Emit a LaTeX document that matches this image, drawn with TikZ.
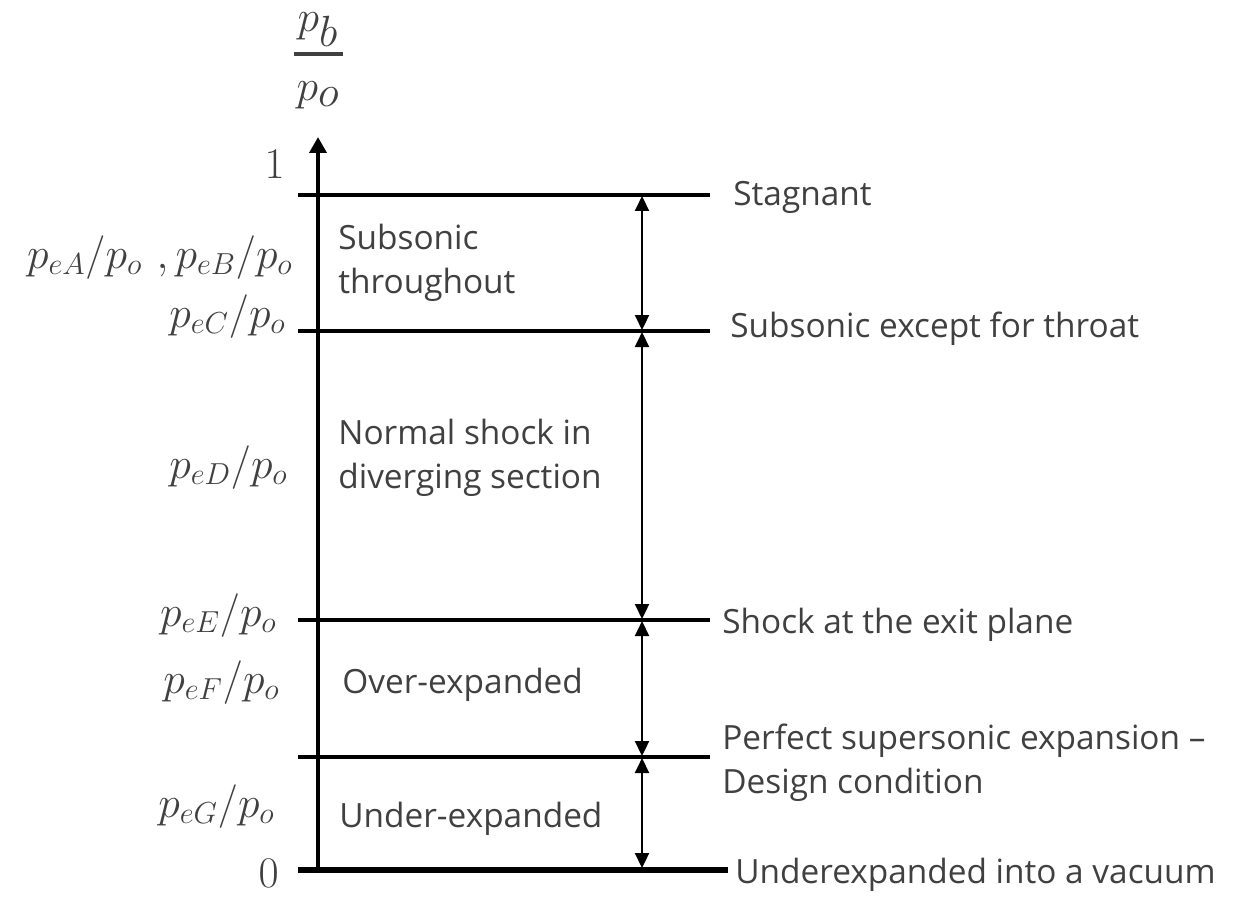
\documentclass[tikz,border=0pt]{standalone}
\usepackage{amsmath}
\usepackage{fontspec}
\newfontfamily\labelfont{Open Sans}
\usepackage{xcolor}
\definecolor{ink}{RGB}{64,64,64}
\usepackage{tikz}
\usetikzlibrary{arrows.meta,positioning,calc}

\begin{document}
\begin{tikzpicture}[
        x=0.02cm, y=-0.02cm,
        axisline/.style={line width=2.8pt, black, -{Triangle[width=9.5pt,length=9pt]}},
        level/.style={line width=1.9pt, black},
        baseline0/.style={line width=3.2pt, black},
        dimarrow/.style={{Triangle[width=8pt,length=8.5pt]}-{Triangle[width=8pt,length=8.5pt]}, line width=1.2pt, black, shorten <=0.6pt, shorten >=0.6pt},
        region/.style={anchor=base west, inner sep=0pt, align=left, text=ink, font=\labelfont\fontsize{19}{24.8}\selectfont},
        state/.style={anchor=base west, inner sep=0pt, align=left, text=ink, font=\labelfont\fontsize{19}{24.8}\selectfont},
        ratio/.style={anchor=base east, inner sep=0pt, text=ink, font=\fontsize{27}{30}\selectfont},
        fracpart/.style={anchor=base, inner sep=0pt, text=ink, font=\fontsize{33}{36}\selectfont},
        fracbar/.style={line width=1.8pt, ink}
    ]
        \useasboundingbox (0,0) rectangle (1246,897);

        % axis
        \coordinate (origin) at (318,870);
        \coordinate (top) at (318,137);
        \draw[axisline] (origin) -- (top);
        \node[fracpart] (pb) at (318,31) {$p_b$};
        \node[fracpart] (po) at (318,100) {$p_o$};
        \draw[fracbar] (294,54) -- (343,54);
        \node[ratio] (one) at (285,178) {$1$};
        \node[ratio] (zero) at (279,887) {$0$};

        % levels
        \coordinate (s1) at (298,195);
        \coordinate (s2) at (298,331);
        \coordinate (s3) at (298,620);
        \coordinate (s4) at (298,757);
        \coordinate (e1) at (710,195);
        \coordinate (e2) at (710,331);
        \coordinate (e3) at (710,620);
        \coordinate (e4) at (710,757);
        \draw[level] (s1) -- (e1);
        \draw[level] (s2) -- (e2);
        \draw[level] (s3) -- (e3);
        \draw[level] (s4) -- (e4);
        \draw[baseline0] (298,870) -- (728,870);

        % double arrows
        \coordinate (a1) at (642,195);
        \coordinate (a2) at (642,331);
        \coordinate (a3) at (642,620);
        \coordinate (a4) at (642,757);
        \coordinate (a5) at (642,869);
        \draw[dimarrow] (a1) -- (a2);
        \draw[dimarrow] (a2) -- (a3);
        \draw[dimarrow] (a3) -- (a4);
        \draw[dimarrow] (a4) -- (a5);

        % regions (base = last line)
        \node[region] (subsonic) at (338,293) {Subsonic\\throughout};
        \node[region] (normal) at (338,488) {Normal shock in\\diverging section};
        \node[region] (over) at (342,693) {Over-expanded};
        \node[region] (under) at (339,827) {Under-expanded};

        % states
        \node[state] (stagnant) at (733,205) {Stagnant};
        \node[state] (throat) at (730,337) {Subsonic except for throat};
        \node[state] (exitplane) at (722,633) {Shock at the exit plane};
        \node[state] (design) at (722,793) {Perfect supersonic expansion –\\Design condition};
        \node[state] (vacuum) at (735,883) {Underexpanded into a vacuum};

        % pressure ratios
        \node[ratio] (pAB) at (293,268) {$p_{eA}/p_o\ ,p_{eB}/p_o$};
        \node[ratio] (pC) at (286,327) {$p_{eC}/p_o$};
        \node[ratio] (pD) at (288,478) {$p_{eD}/p_o$};
        \node[ratio] (pE) at (277,626) {$p_{eE}/p_o$};
        \node[ratio] (pF) at (280,693) {$p_{eF}/p_o$};
        \node[ratio] (pG) at (275,817) {$p_{eG}/p_o$};
    \end{tikzpicture}
\end{document}
